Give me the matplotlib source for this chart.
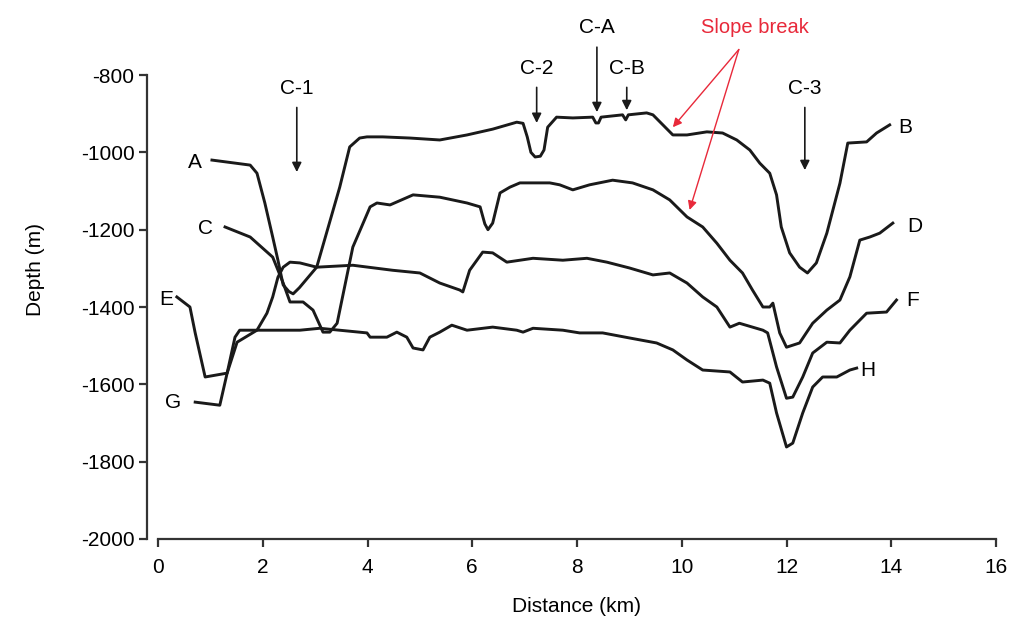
import matplotlib
matplotlib.use("Agg")
import matplotlib.pyplot as plt

plt.rcParams['font.family'] = ['Liberation Sans', 'DejaVu Sans']
plt.rcParams['axes.unicode_minus'] = False

# profile A-B
ab_x = [1.03, 1.76, 1.89, 2.04, 2.19, 2.29, 2.39, 2.5, 2.58, 2.7, 3.03, 3.47, 3.66, 3.85, 3.99,
        4.29, 4.81, 5.38, 5.9, 6.39, 6.85, 6.97, 7.05, 7.12, 7.2, 7.3, 7.37, 7.44, 7.61, 7.92,
        8.3, 8.36, 8.41, 8.46, 8.87, 8.93, 8.98, 9.33, 9.45, 9.64, 9.83, 10.1, 10.48, 10.78, 11.05,
        11.3, 11.49, 11.68, 11.81, 11.9, 12.06, 12.25, 12.4, 12.57, 12.77, 13.02, 13.17, 13.53,
        13.72, 13.97]
ab_d = [-1020, -1033, -1054, -1131, -1219, -1279, -1343, -1360, -1366, -1350, -1297, -1090, -986,
        -963, -960, -960, -963, -968, -955, -940, -922, -925, -960, -1000, -1012, -1010, -994,
        -935, -909, -911, -909, -924, -924, -909, -903, -916, -903, -898, -903, -929, -955, -955,
        -947, -950, -968, -994, -1028, -1054, -1110, -1193, -1260, -1297, -1312, -1286, -1209,
        -1080, -976, -973, -950, -929]

# profile C-D
cd_x = [1.28, 1.76, 2.19, 2.39, 2.52, 2.77, 2.96, 3.15, 3.28, 3.42, 3.72, 3.86, 4.05, 4.18, 4.43,
        4.87, 5.38, 5.9, 6.15, 6.24, 6.3, 6.39, 6.53, 6.72, 6.91, 7.48, 7.67, 7.92, 8.24, 8.68,
        9.06, 9.45, 9.77, 10.1, 10.4, 10.67, 10.92, 11.16, 11.35, 11.55, 11.68, 11.74, 11.87, 12.0,
        12.25, 12.5, 12.77, 13.02, 13.21, 13.4, 13.59, 13.78, 14.03]
cd_d = [-1193, -1219, -1271, -1338, -1387, -1387, -1408, -1465, -1465, -1442, -1245, -1201, -1141,
        -1131, -1136, -1110, -1116, -1131, -1141, -1185, -1200, -1183, -1105, -1090, -1079, -1079,
        -1084, -1097, -1084, -1072, -1079, -1097, -1123, -1167, -1193, -1235, -1279, -1312, -1356,
        -1400, -1400, -1390, -1467, -1504, -1493, -1442, -1408, -1382, -1322, -1227, -1219, -1209,
        -1183]

# profile E-F
ef_x = [0.36, 0.61, 0.71, 0.9, 1.32, 1.51, 1.89, 2.08, 2.19, 2.29, 2.39, 2.52, 2.71, 3.03, 3.72,
        4.48, 5.0, 5.38, 5.76, 5.82, 5.95, 6.2, 6.39, 6.66, 7.16, 7.73, 8.19, 8.57, 9.0, 9.45,
        9.77, 10.1, 10.4, 10.67, 10.92, 11.1, 11.55, 11.64, 11.81, 12.0, 12.12, 12.31, 12.5, 12.77,
        13.02, 13.21, 13.53, 13.91, 14.1]
ef_d = [-1374, -1400, -1467, -1581, -1571, -1491, -1460, -1416, -1374, -1323, -1297, -1284, -1286,
        -1297, -1292, -1305, -1312, -1338, -1356, -1361, -1305, -1258, -1260, -1284, -1274, -1279,
        -1274, -1284, -1299, -1317, -1312, -1338, -1374, -1400, -1452, -1442, -1460, -1467, -1555,
        -1636, -1633, -1581, -1519, -1491, -1493, -1460, -1416, -1413, -1382]

# profile G-H
gh_x = [0.71, 1.18, 1.32, 1.47, 1.56, 2.71, 3.09, 3.99, 4.05, 4.37, 4.56, 4.75, 4.87, 5.06, 5.19,
        5.38, 5.61, 5.9, 6.39, 6.85, 6.97, 7.16, 7.73, 8.05, 8.49, 9.0, 9.52, 9.83, 10.1, 10.4,
        10.92, 11.16, 11.55, 11.68, 11.81, 12.0, 12.12, 12.31, 12.5, 12.69, 12.96, 13.21, 13.34]
gh_d = [-1646, -1654, -1571, -1478, -1460, -1460, -1455, -1467, -1478, -1478, -1465, -1478, -1506,
        -1511, -1478, -1465, -1447, -1460, -1452, -1460, -1465, -1455, -1460, -1467, -1467, -1480,
        -1493, -1511, -1537, -1563, -1568, -1594, -1589, -1597, -1674, -1762, -1752, -1674, -1607,
        -1581, -1581, -1563, -1558]

end_labels = ['A', 'B', 'C', 'D', 'E', 'F', 'G', 'H']
end_label_x = [0.71, 14.26, 0.9, 14.45, 0.15, 14.41, 0.29, 13.55]
end_label_d = [-1025, -937, -1196, -1193, -1380, -1382, -1646, -1563]

canyons = ['C-1', 'C-2', 'C-A', 'C-B', 'C-3']
canyon_x = [2.65, 7.23, 8.38, 8.95, 12.35]
canyon_label_d = [-834, -782, -678, -782, -834]
canyon_tip_d = [-1051, -924, -896, -891, -1046]

break_x = [9.83, 10.15]
break_d = [-935, -1149]

fig = plt.figure(figsize=(10.13, 6.31), dpi=100)
ax = fig.add_axes([158 / 1013, (631 - 539) / 631, (996 - 158) / 1013, 539 / 631])

for xs, ds in [(ab_x, ab_d), (cd_x, cd_d), (ef_x, ef_d), (gh_x, gh_d)]:
    ax.plot(xs, ds, color='#1a1a1a', lw=2.1, solid_joinstyle='round')

for lab, lx, ld in zip(end_labels, end_label_x, end_label_d):
    ax.text(lx, ld, lab, fontsize=15, ha='center', va='center')

for lab, cx, ly, ty in zip(canyons, canyon_x, canyon_label_d, canyon_tip_d):
    ax.text(cx, ly, lab, fontsize=15, ha='center', va='center')
    ax.annotate('', xy=(cx, ty), xytext=(cx, ly - 50),
                arrowprops=dict(arrowstyle='-|>', color='#1a1a1a', lw=1.2,
                                mutation_scale=14, shrinkA=0, shrinkB=0))

ax.text(11.4, -678, 'Slope break', fontsize=14.5, color='#e8293a', ha='center', va='center')
for bx, bd in zip(break_x, break_d):
    ax.annotate('', xy=(bx, bd), xytext=(11.09, -734),
                arrowprops=dict(arrowstyle='-|>', color='#e8293a', lw=1.0,
                                mutation_scale=13, shrinkA=0, shrinkB=0))

ax.set_xlim(0, 16)
ax.set_ylim(-2000, -606)
ax.set_xticks(range(0, 17, 2))
ax.set_yticks(range(-2000, -799, 200))

for s in ['top', 'right']:
    ax.spines[s].set_visible(False)
ax.spines['left'].set_position(('outward', 8))
ax.spines['left'].set_bounds(-2000, -800)
ax.spines['bottom'].set_bounds(0, 16)
for s in ['left', 'bottom']:
    ax.spines[s].set_linewidth(1.6)
    ax.spines[s].set_color('#333333')
ax.tick_params(direction='out', length=6, width=1.6, labelsize=15, color='#333333')
ax.tick_params(axis='x', pad=8)
ax.tick_params(axis='y', pad=3)

ax.set_xlabel('Distance (km)', fontsize=15, labelpad=14)
ax.set_ylabel('Depth (m)', fontsize=15, labelpad=26)

fig.savefig('out.png', dpi=100)
